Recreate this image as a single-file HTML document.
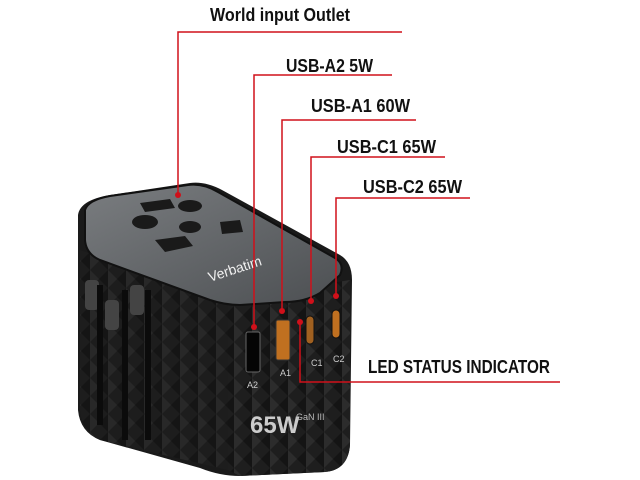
<!DOCTYPE html>
<html><head><meta charset="utf-8"><style>
html,body{margin:0;padding:0;background:#fff;}
svg{display:block}
text{font-family:"Liberation Sans",sans-serif;font-weight:bold;fill:#111;}
</style></head><body>
<svg width="640" height="480" viewBox="0 0 640 480">
<defs>
<linearGradient id="top" x1="0" y1="0" x2="1" y2="1">
<stop offset="0" stop-color="#7a7d80"/><stop offset="1" stop-color="#4c4f52"/></linearGradient>
<pattern id="dia" width="18" height="18" patternUnits="userSpaceOnUse">
<rect width="18" height="18" fill="#1e1e1e"/>
<path d="M0 0L9 9L0 18Z" fill="#2c2c2c"/><path d="M18 0L9 9L18 18Z" fill="#141414"/>
</pattern>
</defs>
<path d="M78 215 Q80 200 110 195 L190 183 Q205 181 222 190 L340 255 Q352 262 352 280 L350 445 Q348 470 325 472 L240 476 Q220 476 200 468 L100 440 Q80 432 78 410 Z" fill="#1a1a1a"/>
<path d="M228 300 L350 280 L350 445 Q348 470 325 472 L240 476 L228 470 Z" fill="url(#dia)"/>
<path d="M80 250 L228 305 L228 470 L100 440 Q82 432 80 410 Z" fill="url(#dia)" opacity="0.8"/>
<path d="M85 210 Q88 200 110 196 L188 185 Q203 183 218 192 L335 258 Q345 264 340 275 L320 293 Q305 302 285 302 L240 305 Q225 305 210 300 L100 260 Q86 254 85 240 Z" fill="url(#top)" stroke="#111" stroke-width="2"/>
<g fill="#1a1a1a">
<path d="M140 203 L170 199 L175 208 L145 212Z"/>
<ellipse cx="190" cy="206" rx="12" ry="6"/>
<ellipse cx="145" cy="222" rx="13" ry="7"/>
<ellipse cx="190" cy="227" rx="11" ry="6"/>
<path d="M220 222 L240 220 L243 232 L222 234Z"/>
<path d="M155 240 L185 236 L193 246 L165 252Z"/>
</g>
<text x="210" y="282" font-size="14" style="fill:#f0f0f0;font-weight:normal" transform="rotate(-18 210 282)">Verbatim</text>
<g fill="#444"><rect x="85" y="280" width="14" height="30" rx="4"/><rect x="105" y="300" width="14" height="30" rx="4"/><rect x="130" y="285" width="14" height="30" rx="4"/></g>
<g fill="#0b0b0b"><rect x="97" y="285" width="6" height="140"/><rect x="122" y="290" width="6" height="150"/><rect x="145" y="290" width="6" height="150"/></g>
<rect x="246" y="332" width="14" height="40" rx="2" fill="#050505" stroke="#666"/>
<rect x="276" y="320" width="14" height="40" rx="2" fill="#c07020" stroke="#333"/>
<rect x="306" y="316" width="8" height="28" rx="4" fill="#a06020" stroke="#111"/>
<rect x="332" y="310" width="8" height="28" rx="4" fill="#c07020" stroke="#111"/>
<g font-size="9"><text x="247" y="388" style="fill:#ccc;font-weight:normal">A2</text><text x="280" y="376" style="fill:#ccc;font-weight:normal">A1</text><text x="311" y="366" style="fill:#ccc;font-weight:normal">C1</text><text x="333" y="362" style="fill:#ccc;font-weight:normal">C2</text></g>
<text x="250" y="433" font-size="24" style="fill:#ccc">65W</text>
<text x="296" y="420" font-size="9" style="fill:#bbb;font-weight:normal">GaN III</text>
<g stroke="#d0101a" stroke-width="1.5" fill="none">
<path d="M402 32 H178 V194"/>
<path d="M392 75 H254 V326"/>
<path d="M416 120 H282 V310"/>
<path d="M445 157 H311 V300"/>
<path d="M470 198 H336 V295"/>
<path d="M560 382 H300 V322"/>
</g>
<g fill="#d0101a"><circle cx="178" cy="195" r="3"/><circle cx="254" cy="327" r="3"/><circle cx="282" cy="311" r="3"/><circle cx="311" cy="301" r="3"/><circle cx="336" cy="296" r="3"/><circle cx="300" cy="322" r="3"/></g>
<g font-size="18">
<text x="210" y="21" textLength="140" lengthAdjust="spacingAndGlyphs">World input Outlet</text>
<text x="286" y="72" textLength="87" lengthAdjust="spacingAndGlyphs">USB-A2 5W</text>
<text x="311" y="112" textLength="99" lengthAdjust="spacingAndGlyphs">USB-A1 60W</text>
<text x="337" y="153" textLength="99" lengthAdjust="spacingAndGlyphs">USB-C1 65W</text>
<text x="363" y="193" textLength="99" lengthAdjust="spacingAndGlyphs">USB-C2 65W</text>
<text x="368" y="373" textLength="182" lengthAdjust="spacingAndGlyphs">LED STATUS INDICATOR</text>
</g>
</svg>
</body></html>
